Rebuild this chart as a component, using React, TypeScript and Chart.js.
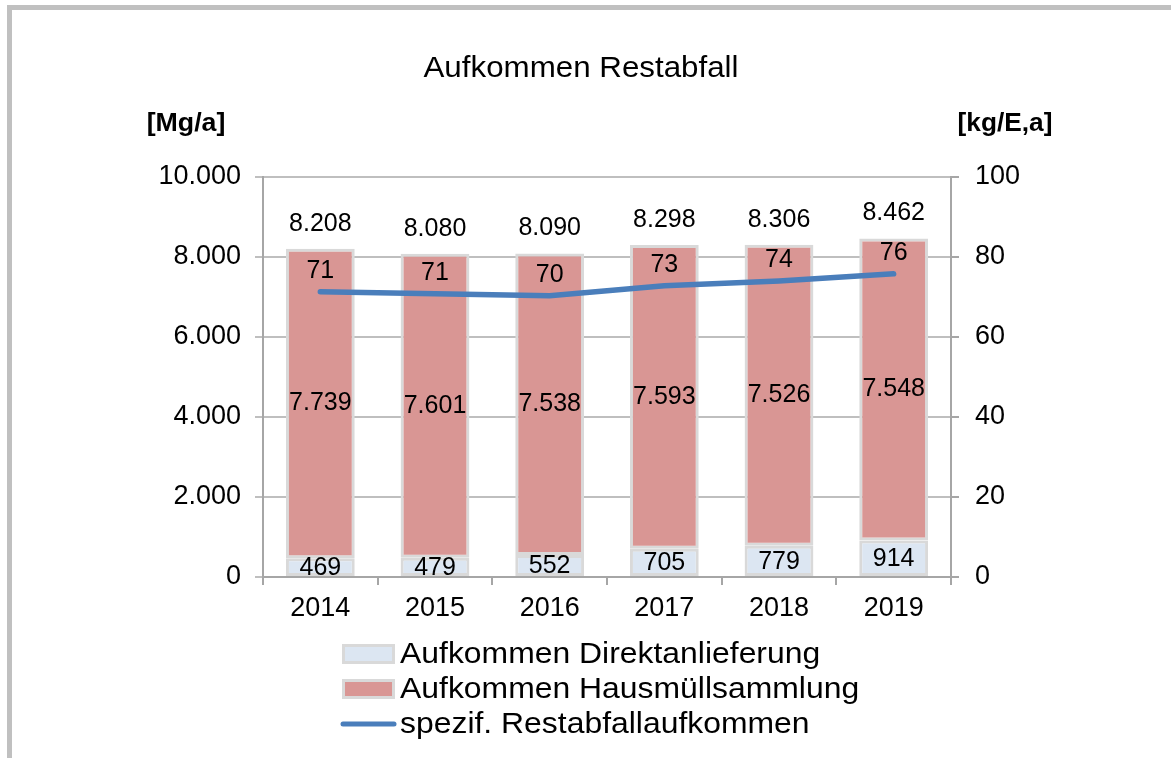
import React, { useEffect, useRef } from "react";
import { Chart, registerables } from "chart.js";

Chart.register(...registerables);

const years = ["2014", "2015", "2016", "2017", "2018", "2019"];
const direkt = [469, 479, 552, 705, 779, 914];
const haus = [7739, 7601, 7538, 7593, 7526, 7548];
const totals = [8208, 8080, 8090, 8298, 8306, 8462];
const spezif = [71.3, 70.8, 70.3, 72.8, 74.0, 75.8];
const spezifLabels = [71, 71, 70, 73, 74, 76];

const FONT = "'Liberation Sans', Arial, sans-serif";
const C_DIREKT = "#dce6f2";
const C_HAUS = "#d99694";
const C_BORDER = "#d9d9d9";
const C_LINE = "#4a7ebb";
const C_AXIS = "#a6a6a6";
const C_GRID = "#bfbfbf";

const fmt = (n: number) =>
  String(Math.round(n)).replace(/\B(?=(\d{3})+(?!\d))/g, ".");

const legendItems = [
  { text: "Aufkommen Direktanlieferung", type: "box", color: C_DIREKT },
  { text: "Aufkommen Hausmüllsammlung", type: "box", color: C_HAUS },
  { text: "spezif. Restabfallaufkommen", type: "line", color: C_LINE },
];

function stretchText(
  ctx: CanvasRenderingContext2D,
  text: string,
  x: number,
  y: number,
  sx: number
) {
  ctx.save();
  ctx.translate(x, y);
  ctx.scale(sx, 1);
  ctx.fillText(text, 0, 0);
  ctx.restore();
}

const decorPlugin = {
  id: "decor",
  beforeDraw(chart: any) {
    const ctx = chart.ctx;
    ctx.save();
    ctx.fillStyle = "#ffffff";
    ctx.fillRect(0, 0, chart.width, chart.height);
    ctx.fillStyle = "#c0c0c0";
    ctx.fillRect(7, 5, 5, chart.height - 5);
    ctx.fillRect(7, 5, chart.width - 7, 5);
    ctx.restore();
  },
  afterDatasetsDraw(chart: any) {
    const ctx = chart.ctx;
    ctx.save();
    ctx.fillStyle = "#000";
    ctx.textAlign = "center";
    ctx.textBaseline = "middle";
    ctx.font = `25px ${FONT}`;
    const m0 = chart.getDatasetMeta(1);
    const m1 = chart.getDatasetMeta(2);
    const m2 = chart.getDatasetMeta(0);
    m0.data.forEach((bar: any, i: number) => {
      ctx.fillText(fmt(direkt[i]), bar.x, (bar.y + bar.base) / 2 + 1);
    });
    m1.data.forEach((bar: any, i: number) => {
      ctx.fillText(fmt(haus[i]), bar.x, (bar.y + bar.base) / 2);
      ctx.fillText(fmt(totals[i]), bar.x, bar.y - 25);
    });
    m2.data.forEach((pt: any, i: number) => {
      ctx.fillText(String(spezifLabels[i]), pt.x, pt.y - 21);
    });
    ctx.restore();
  },
  afterDraw(chart: any) {
    const ctx = chart.ctx;
    ctx.save();
    ctx.fillStyle = "#000";
    ctx.textBaseline = "middle";
    ctx.textAlign = "center";
    ctx.font = `29px ${FONT}`;
    stretchText(ctx, "Aufkommen Restabfall", 581, 69, 1.08);
    ctx.font = `bold 25px ${FONT}`;
    stretchText(ctx, "[Mg/a]", 186, 124, 1.07);
    stretchText(ctx, "[kg/E,a]", 1005, 124, 1.05);

    const ys = [654, 689, 724];
    ctx.font = `29px ${FONT}`;
    ctx.textAlign = "left";
    legendItems.forEach((it, i) => {
      const y = ys[i];
      if (it.type === "box") {
        ctx.fillStyle = C_BORDER;
        ctx.fillRect(342, y - 10, 53, 20);
        ctx.fillStyle = it.color;
        ctx.fillRect(345, y - 7, 47, 14);
      } else {
        ctx.strokeStyle = it.color;
        ctx.lineWidth = 5;
        ctx.lineCap = "round";
        ctx.beginPath();
        ctx.moveTo(343, y);
        ctx.lineTo(394, y);
        ctx.stroke();
      }
      ctx.fillStyle = "#000";
      stretchText(ctx, it.text, 400, y + 1, 1.1);
    });
    ctx.restore();
  },
};

export default function App() {
  const ref = useRef<HTMLCanvasElement>(null);
  useEffect(() => {
    document.body.style.margin = "0";
    const chart = new Chart(ref.current!, {
      type: "bar",
      data: {
        labels: years,
        datasets: [
          {
            type: "line",
            label: "spezif. Restabfallaufkommen",
            data: spezif,
            yAxisID: "y1",
            borderColor: C_LINE,
            backgroundColor: C_LINE,
            borderWidth: 5.5,
            borderCapStyle: "round",
            pointRadius: 0,
            tension: 0,
            order: 0,
          } as any,
          {
            label: "Aufkommen Direktanlieferung",
            data: direkt,
            yAxisID: "y",
            backgroundColor: C_DIREKT,
            borderColor: C_BORDER,
            borderWidth: 3,
            borderSkipped: false,
            order: 1,
          },
          {
            label: "Aufkommen Hausmüllsammlung",
            data: haus,
            yAxisID: "y",
            backgroundColor: C_HAUS,
            borderColor: C_BORDER,
            borderWidth: 3,
            borderSkipped: false,
            order: 1,
          },
        ],
      },
      options: {
        animation: false,
        responsive: false,
        maintainAspectRatio: false,
        layout: { padding: { top: 177, bottom: 0, left: 0, right: 0 } },
        datasets: { bar: { categoryPercentage: 1, barPercentage: 0.6 } },
        plugins: {
          legend: { display: false },
          tooltip: { enabled: false },
          title: { display: false },
        },
        scales: {
          x: {
            stacked: true,
            grid: {
              offset: true,
              drawOnChartArea: false,
              drawTicks: true,
              tickLength: 8,
              color: C_AXIS,
              lineWidth: 2,
            },
            border: { color: C_AXIS, width: 2 },
            ticks: {
              color: "#000",
              font: { family: FONT, size: 27 },
              padding: 7,
            },
            afterFit: (s: any) => {
              s.height = 181;
            },
          },
          y: {
            position: "left",
            stacked: true,
            min: 0,
            max: 10000,
            ticks: {
              stepSize: 2000,
              color: "#000",
              font: { family: FONT, size: 27 },
              padding: 14,
              callback: (v: any) => fmt(Number(v)),
            },
            grid: { color: C_GRID, lineWidth: 2, tickLength: 8 },
            border: { color: C_AXIS, width: 2 },
            afterFit: (s: any) => {
              s.width = 263;
            },
          },
          y1: {
            position: "right",
            min: 0,
            max: 100,
            ticks: {
              stepSize: 20,
              color: "#000",
              font: { family: FONT, size: 27 },
              padding: 16,
            },
            grid: {
              drawOnChartArea: false,
              tickLength: 8,
              color: C_AXIS,
              lineWidth: 2,
            },
            border: { color: C_AXIS, width: 2 },
            afterFit: (s: any) => {
              s.width = 220;
            },
          },
        },
      },
      plugins: [decorPlugin],
    });
    return () => chart.destroy();
  }, []);
  return (
    <div style={{ position: "absolute", left: 0, top: 0, width: 1171, height: 758 }}>
      <canvas ref={ref} width={1171} height={758} style={{ display: "block" }} />
    </div>
  );
}
